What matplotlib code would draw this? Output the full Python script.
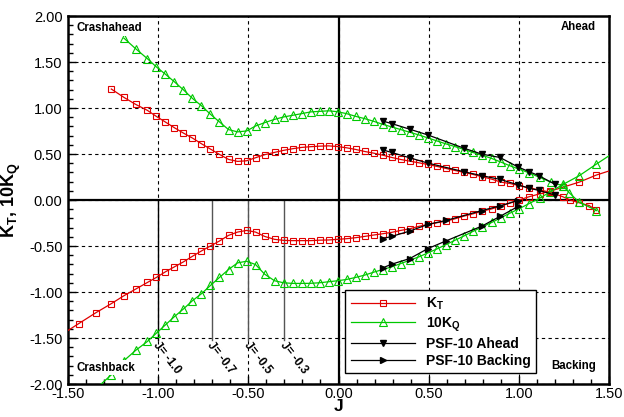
import numpy as np
import matplotlib
matplotlib.use("Agg")
import matplotlib.pyplot as plt
from matplotlib.ticker import MultipleLocator, FormatStrFormatter
from matplotlib.lines import Line2D

plt.rcParams["font.family"] = ["Liberation Sans", "DejaVu Sans"]
plt.rcParams["mathtext.fontset"] = "custom"
plt.rcParams["mathtext.rm"] = "Liberation Sans"
plt.rcParams["mathtext.bf"] = "Liberation Sans:bold"
plt.rcParams["mathtext.default"] = "bf"

# ---- four-quadrant open water data ----
# upper branch (crashahead -> ahead)
j_kt_up = [-1.26, -1.19, -1.125, -1.06, -1.01, -0.96, -0.91, -0.86, -0.81, -0.76,
           -0.71, -0.66, -0.61, -0.56, -0.51, -0.46, -0.41, -0.355, -0.305, -0.255,
           -0.205, -0.155, -0.105, -0.055, -0.005, 0.045, 0.095, 0.145, 0.195, 0.245,
           0.295, 0.345, 0.395, 0.445, 0.495, 0.545, 0.595, 0.645, 0.695, 0.745,
           0.795, 0.85, 0.90, 0.95, 1.00, 1.055, 1.115, 1.175, 1.245, 1.285,
           1.335, 1.39, 1.43]
kt_up = [1.207, 1.116, 1.040, 0.975, 0.909, 0.848, 0.786, 0.728, 0.674, 0.612,
         0.554, 0.496, 0.442, 0.420, 0.427, 0.460, 0.493, 0.518, 0.540, 0.558,
         0.572, 0.580, 0.586, 0.589, 0.582, 0.568, 0.550, 0.528, 0.510, 0.488,
         0.463, 0.441, 0.423, 0.405, 0.387, 0.366, 0.344, 0.322, 0.301, 0.279,
         0.254, 0.227, 0.195, 0.180, 0.158, 0.133, 0.110, 0.085, 0.035, 0.000,
         -0.030, -0.060, -0.112]

j_kq_up = [-1.19, -1.125, -1.06, -1.01, -0.96, -0.91, -0.86, -0.81, -0.76, -0.71,
           -0.66, -0.61, -0.56, -0.51, -0.46, -0.41, -0.355, -0.305, -0.255, -0.205,
           -0.155, -0.105, -0.055, -0.005, 0.045, 0.095, 0.145, 0.195, 0.245, 0.295,
           0.345, 0.395, 0.445, 0.495, 0.545, 0.595, 0.645, 0.695, 0.745, 0.795,
           0.85, 0.90, 0.95, 1.00, 1.055, 1.115, 1.18, 1.245, 1.28, 1.335, 1.43]
kq_up = [1.760, 1.645, 1.537, 1.447, 1.368, 1.285, 1.198, 1.105, 1.025, 0.932,
         0.849, 0.766, 0.741, 0.751, 0.805, 0.841, 0.877, 0.903, 0.921, 0.939,
         0.958, 0.964, 0.970, 0.960, 0.939, 0.910, 0.885, 0.856, 0.823, 0.795,
         0.766, 0.737, 0.708, 0.676, 0.643, 0.611, 0.582, 0.550, 0.517, 0.488,
         0.452, 0.413, 0.373, 0.337, 0.297, 0.247, 0.193, 0.155, 0.078, -0.023,
         -0.114]

# lower branch (crashback -> backing)
j_kt_lo = [-1.55, -1.44, -1.345, -1.26, -1.19, -1.125, -1.06, -1.01, -0.96, -0.91,
           -0.86, -0.81, -0.76, -0.71, -0.66, -0.61, -0.56, -0.51, -0.46, -0.41,
           -0.355, -0.305, -0.255, -0.205, -0.155, -0.105, -0.055, -0.005, 0.045, 0.095,
           0.145, 0.195, 0.245, 0.295, 0.345, 0.395, 0.445, 0.495, 0.545, 0.595,
           0.645, 0.695, 0.745, 0.795, 0.85, 0.90, 0.95, 1.00, 1.055, 1.115,
           1.175, 1.245, 1.335, 1.43, 1.53]
kt_lo = [-1.480, -1.342, -1.224, -1.126, -1.040, -0.968, -0.896, -0.841, -0.780, -0.726,
         -0.672, -0.611, -0.553, -0.499, -0.445, -0.384, -0.348, -0.330, -0.348, -0.395,
         -0.427, -0.438, -0.441, -0.441, -0.441, -0.436, -0.434, -0.427, -0.420, -0.409,
         -0.395, -0.380, -0.366, -0.351, -0.330, -0.312, -0.286, -0.265, -0.247, -0.229,
         -0.204, -0.175, -0.150, -0.121, -0.096, -0.063, -0.034, 0.000, 0.035, 0.067,
         0.097, 0.140, 0.195, 0.272, 0.335]

j_kq_lo = [-1.345, -1.26, -1.19, -1.125, -1.06, -1.01, -0.96, -0.91, -0.86, -0.81,
           -0.76, -0.71, -0.66, -0.61, -0.56, -0.51, -0.46, -0.41, -0.355, -0.305,
           -0.255, -0.205, -0.155, -0.105, -0.055, -0.005, 0.045, 0.095, 0.145, 0.195,
           0.245, 0.295, 0.345, 0.395, 0.445, 0.495, 0.545, 0.595, 0.645, 0.695,
           0.745, 0.795, 0.85, 0.90, 0.95, 1.00, 1.055, 1.115, 1.175, 1.245,
           1.335, 1.43, 1.53]
kq_lo = [-2.050, -1.900, -1.746, -1.634, -1.537, -1.447, -1.357, -1.267, -1.184, -1.094,
         -1.018, -0.928, -0.841, -0.755, -0.683, -0.665, -0.701, -0.805, -0.877, -0.899,
         -0.906, -0.906, -0.905, -0.899, -0.888, -0.877, -0.863, -0.841, -0.816, -0.784,
         -0.755, -0.726, -0.690, -0.654, -0.618, -0.575, -0.532, -0.485, -0.438, -0.391,
         -0.341, -0.294, -0.243, -0.193, -0.143, -0.096, -0.040, 0.020, 0.090, 0.170,
         0.265, 0.391, 0.520]

# PSF-10 computations
j_ahead = [0.245, 0.295, 0.395, 0.495, 0.695, 0.795, 0.895, 0.995, 1.055, 1.11, 1.20]
kq_ahead = [0.859, 0.831, 0.770, 0.708, 0.564, 0.499, 0.463, 0.360, 0.310, 0.266, 0.172]
kt_ahead = [0.546, 0.517, 0.459, 0.402, 0.308, 0.265, 0.225, 0.166, 0.130, 0.105, 0.056]

j_back = [0.245, 0.295, 0.395, 0.495, 0.595, 0.795, 0.895, 0.995]
kt_back = [-0.420, -0.395, -0.337, -0.265, -0.222, -0.114, -0.063, -0.005]
kq_back = [-0.737, -0.697, -0.636, -0.528, -0.445, -0.283, -0.178, -0.070]

# advance ratios marked on the crashback side
j_marks = [-1.0, -0.7, -0.5, -0.3]
j_mark_labels = ["J= -1.0", "J= -0.7", "J= -0.5", "J= -0.3"]
j_mark_colors = ["black", "#555555", "#555555", "#555555"]

RED = "#e00000"
GREEN = "#00c800"

fig = plt.figure(figsize=(6.24, 4.17), dpi=100)
ax = fig.add_axes([0.109, 0.079, 0.867, 0.8825])

kt_style = dict(color=RED, lw=0.9, marker="s", ms=4.5, mfc="none", mec=RED, mew=0.8)
kq_style = dict(color=GREEN, lw=0.9, marker="^", ms=5.5, mfc="none", mec=GREEN, mew=0.8)
ah_style = dict(color="black", lw=0.9, marker="v", ms=4.5, mfc="black", mec="black")
bk_style = dict(color="black", lw=0.9, marker=">", ms=4.5, mfc="black", mec="black")

ax.plot(j_kt_up, kt_up, zorder=4, **kt_style)
ax.plot(j_kt_lo, kt_lo, zorder=4, **kt_style)
ax.plot(j_kq_up, kq_up, zorder=4, **kq_style)
ax.plot(j_kq_lo, kq_lo, zorder=4, **kq_style)
ax.plot(j_ahead, kq_ahead, zorder=5, **ah_style)
ax.plot(j_ahead, kt_ahead, zorder=5, **ah_style)
ax.plot(j_back, kt_back, zorder=5, **bk_style)
ax.plot(j_back, kq_back, zorder=5, **bk_style)

# grid and zero lines
ax.set_xlim(-1.5, 1.5)
ax.set_ylim(-2.0, 2.0)
ax.xaxis.set_major_locator(MultipleLocator(0.5))
ax.xaxis.set_minor_locator(MultipleLocator(0.1))
ax.yaxis.set_major_locator(MultipleLocator(0.5))
ax.yaxis.set_minor_locator(MultipleLocator(0.1))
ax.xaxis.set_major_formatter(FormatStrFormatter("%.2f"))
ax.yaxis.set_major_formatter(FormatStrFormatter("%.2f"))
ax.grid(True, which="major", color="black", lw=0.8, linestyle=(0, (3, 3)), zorder=1)
ax.set_axisbelow(True)
ax.axhline(0, color="black", lw=1.6, zorder=3)
ax.axvline(0, color="black", lw=1.6, zorder=3)

for jm, lab, c in zip(j_marks, j_mark_labels, j_mark_colors):
    ax.plot([jm, jm], [0, -1.52], color=c, lw=1.0, zorder=2)
    ax.text(jm - 0.04, -1.52, lab, rotation=-52, ha="left", va="top",
            fontsize=8.5, fontweight="bold", zorder=6)

box = dict(facecolor="white", edgecolor="none", pad=1.0)
ax.text(-1.452, 1.865, "Crashahead", fontsize=8.3, fontweight="bold",
        ha="left", va="center", bbox=box, zorder=7)
ax.text(1.428, 1.876, "Ahead", fontsize=8.3, fontweight="bold",
        ha="right", va="center", bbox=box, zorder=7)
ax.text(-1.455, -1.822, "Crashback", fontsize=8.3, fontweight="bold",
        ha="left", va="center", bbox=box, zorder=7)
ax.text(1.428, -1.805, "Backing", fontsize=8.3, fontweight="bold",
        ha="right", va="center", bbox=box, zorder=7)

for s in ax.spines.values():
    s.set_linewidth(1.8)
ax.tick_params(which="both", direction="in", top=False, right=False,
               labelsize=10.5, width=1.0)
ax.tick_params(axis="y", pad=4)
ax.tick_params(axis="x", pad=2)
ax.tick_params(which="major", length=6)
ax.tick_params(which="minor", length=3.5)

ax.set_xlabel("J", fontsize=12.5, fontweight="bold", labelpad=-1)
ax.set_ylabel(r"K$_T$, 10K$_Q$", fontsize=13, fontweight="bold", labelpad=4)

handles = [
    Line2D([], [], **kt_style),
    Line2D([], [], **kq_style),
    Line2D([], [], **ah_style),
    Line2D([], [], **bk_style),
]
labels = [r"K$_T$", r"10K$_Q$", "PSF-10 Ahead", "PSF-10 Backing"]
leg = ax.legend(handles, labels, loc="upper left", bbox_to_anchor=(0.038, -0.982),
                bbox_transform=ax.transData, borderaxespad=0, fancybox=False,
                framealpha=1, edgecolor="black", handlelength=4.6, handletextpad=0.8,
                labelspacing=0.22, borderpad=0.4, prop=dict(size=10, weight="bold"))
leg.get_frame().set_linewidth(1.0)
leg.set_zorder(8)

fig.savefig("out.png", dpi=100)
